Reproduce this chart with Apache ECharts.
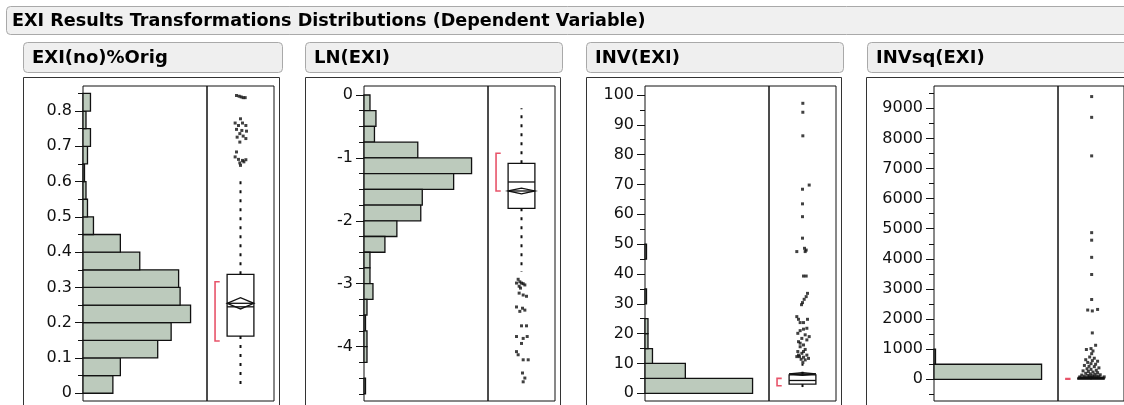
<!DOCTYPE html>
<html>
<head>
<meta charset="utf-8">
<script src="https://cdn.jsdelivr.net/npm/echarts@6/dist/echarts.min.js"></script>
<style>
html,body{margin:0;padding:0;background:#fff}
#chart{width:1124px;height:405px}
</style>
</head>
<body>
<div id="chart"></div>
<script>
const mainTitle = 'EXI Results Transformations Distributions (Dependent Variable)';
const panelTitles = ['EXI(no)%Orig', 'LN(EXI)', 'INV(EXI)', 'INVsq(EXI)'];

// axis ranges [min, max] and tick values
const rangeOrig = [-0.022, 0.871], rangeLn = [-4.865, 0.143], rangeInv = [-2.58, 103], rangeInvsq = [-721, 9741];
const ticksOrig = [0, 0.1, 0.2, 0.3, 0.4, 0.5, 0.6, 0.7, 0.8];
const minorOrig = [0.05, 0.15, 0.25, 0.35, 0.45, 0.55, 0.65, 0.75, 0.85];
const ticksLn = [0, -1, -2, -3, -4];
const minorLn = [-0.25, -0.5, -0.75, -1.25, -1.5, -1.75, -2.25, -2.5, -2.75, -3.25, -3.5, -3.75, -4.25, -4.5, -4.75];
const ticksInv = [0, 10, 20, 30, 40, 50, 60, 70, 80, 90, 100];
const minorInv = [5, 15, 25, 35, 45, 55, 65, 75, 85, 95];
const ticksInvsq = [0, 1000, 2000, 3000, 4000, 5000, 6000, 7000, 8000, 9000];
const minorInvsq = [-500, 500, 1500, 2500, 3500, 4500, 5500, 6500, 7500, 8500, 9500];

// histogram bins: [low, high, count]
const histOrig = [[0,0.05,20],[0.05,0.1,25],[0.1,0.15,50],[0.15,0.2,59],[0.2,0.25,72],[0.25,0.3,65],[0.3,0.35,64],[0.35,0.4,38],[0.4,0.45,25],[0.45,0.5,7],[0.5,0.55,3],[0.55,0.6,2],[0.6,0.65,1],[0.65,0.7,3],[0.7,0.75,5],[0.75,0.8,2],[0.8,0.85,5]];
const histLn = [[-0.25,0,4],[-0.5,-0.25,8],[-0.75,-0.5,7],[-1,-0.75,36],[-1.25,-1,72],[-1.5,-1.25,60],[-1.75,-1.5,39],[-2,-1.75,38],[-2.25,-2,22],[-2.5,-2.25,14],[-2.75,-2.5,4],[-3,-2.75,4],[-3.25,-3,6],[-3.5,-3.25,2],[-3.75,-3.5,1],[-4,-3.75,2],[-4.25,-4,2],[-4.75,-4.5,1]];
const histInv = [[0,5,72],[5,10,27],[10,15,5],[15,20,2],[20,25,2],[30,35,1],[45,50,1]];
const histInvsq = [[0,500,72],[500,1000,1]];
const histMax = 83;

// box stats: [lower whisker, q1, median, q3, upper whisker]; mean [value, half width]; shortest half [lo, hi]
const boxOrig = [0.011, 0.162, 0.245, 0.337, 0.604], meanOrig = [0.255, 0.016], shortOrig = [0.148, 0.316];
const boxLn = [-2.81, -1.801, -1.383, -1.086, -0.21], meanLn = [-1.526, 0.045], shortLn = [-1.526, -0.927];
const boxInv = [2.0, 3.1, 4.3, 6.2, 9.8], meanInv = [6.5, 0.45], shortInv = [2.55, 5.0];
const boxInvsq = [1.4, 8.8, 16.7, 38, 82], meanInvsq = [60, 20], shortInvsq = [4, 28];

// outlier points: [jitter, value]
const outOrig = [[0.44,0.844],[0.48,0.842],[0.51,0.840],[0.54,0.838],[0.57,0.838],[0.50,0.778],[0.42,0.766],[0.53,0.766],[0.47,0.759],[0.58,0.759],[0.44,0.748],[0.52,0.745],[0.59,0.743],[0.49,0.736],[0.54,0.729],[0.45,0.726],[0.58,0.722],[0.49,0.712],[0.44,0.684],[0.42,0.670],[0.47,0.663],[0.53,0.660],[0.58,0.662],[0.49,0.653],[0.55,0.656],[0.50,0.646]];
const outLn = [[0.45,-2.93],[0.475,-2.97],[0.425,-2.99],[0.5,-2.99],[0.525,-3.0],[0.465,-3.04],[0.55,-3.02],[0.485,-3.07],[0.465,-3.15],[0.525,-3.18],[0.575,-3.2],[0.425,-3.37],[0.515,-3.39],[0.475,-3.44],[0.55,-3.42],[0.5,-3.67],[0.575,-3.67],[0.425,-3.84],[0.525,-3.87],[0.585,-3.84],[0.5,-3.95],[0.425,-4.08],[0.45,-4.13],[0.525,-4.21],[0.6,-4.21],[0.515,-4.42],[0.55,-4.5],[0.525,-4.56]];
const outInv = [[0.505,97.2],[0.505,94.2],[0.505,86.3],[0.6,69.8],[0.5,68.4],[0.5,63.5],[0.5,59.2],[0.5,52.0],[0.53,48.6],[0.555,48.0],[0.415,47.5],[0.54,47.5],[0.515,39.3],[0.555,39.3],[0.575,33.5],[0.555,32.4],[0.525,31.5],[0.5,30.4],[0.485,29.7],[0.415,25.7],[0.44,24.8],[0.515,23.7],[0.575,24.8],[0.465,23.7],[0.565,21.8],[0.515,21.5],[0.465,21.0],[0.43,20.1],[0.54,19.6],[0.49,18.4],[0.44,17.3],[0.565,17.9],[0.515,16.2],[0.465,15.6],[0.54,14.7],[0.43,14.0],[0.49,13.4],[0.565,12.8],[0.455,12.3],[0.515,12.1],[0.59,11.7],[0.415,12.3],[0.48,11.4],[0.54,11.2],[0.505,10.3],[0.44,12.8],[0.6,19.0],[0.515,14.0],[0.465,16.8]];
const outInvsq = [[0.51,9390],[0.51,8700],[0.51,7420],[0.51,4870],[0.51,4620],[0.51,4050],[0.51,3480],[0.51,2650],[0.45,2300],[0.52,2270],[0.60,2320],[0.52,1540],[0.57,1130],[0.50,1020],[0.43,990],[0.53,940],[0.51,850],[0.48,740],[0.55,700],[0.42,650],[0.52,620],[0.60,600],[0.45,560],[0.50,520],[0.57,500],[0.40,460],[0.47,430],[0.55,420],[0.62,380],[0.44,350],[0.50,330],[0.58,300],[0.38,280],[0.46,260],[0.53,240],[0.60,220],[0.42,200],[0.49,180],[0.56,170],[0.64,150],[0.36,140],[0.45,130],[0.52,120],[0.59,110],[0.40,100],[0.48,95],[0.55,90],[0.62,85],[0.33,80],[0.70,80]];

const BAR = '#bccabc', INK = '#111', RED = '#e8546a';
const FONT = '"DejaVu Sans", sans-serif';

const panels = [
    {title: panelTitles[0], range: rangeOrig, hist: histOrig, box: boxOrig, mean: meanOrig, sh: shortOrig, out: outOrig, major: ticksOrig, minor: minorOrig},
    {title: panelTitles[1], range: rangeLn, hist: histLn, box: boxLn, mean: meanLn, sh: shortLn, out: outLn, major: ticksLn, minor: minorLn},
    {title: panelTitles[2], range: rangeInv, hist: histInv, box: boxInv, mean: meanInv, sh: shortInv, out: outInv, major: ticksInv, minor: minorInv},
    {title: panelTitles[3], range: rangeInvsq, hist: histInvsq, box: boxInvsq, mean: meanInvsq, sh: shortInvsq, out: outInvsq, major: ticksInvsq, minor: minorInvsq}
];
// pixel layout of each panel
const layout = [
    {outer: 23, outerW: 256, head: 23, headW: 259, hist: 83, box: 207},
    {outer: 305, outerW: 255, head: 305, headW: 257, hist: 364, box: 488},
    {outer: 586, outerW: 255, head: 586, headW: 257, hist: 645, box: 769},
    {outer: 866, outerW: 280, head: 867, headW: 280, hist: 934, box: 1058}
];

function renderHist(params, api) {
    const a = api.coord([0, api.value(1)]);
    const b = api.coord([api.value(2), api.value(0)]);
    return {type: 'rect', shape: {x: a[0], y: a[1], width: b[0] - a[0], height: b[1] - a[1]},
        style: {fill: BAR, stroke: INK, lineWidth: 1.3}};
}

function seg(p1, p2, style) {
    return {type: 'line', shape: {x1: p1[0], y1: p1[1], x2: p2[0], y2: p2[1]}, style: style};
}

function renderBox(params, api) {
    const [lo, q1, md, q3, hi, mn, ci, s0, s1] = [0,1,2,3,4,5,6,7,8].map(k => api.value(k));
    const pt = (x, y) => api.coord([x, y]);
    const dash = {stroke: INK, lineWidth: 2, lineDash: [3, 6]};
    const solid = {stroke: INK, lineWidth: 1.3};
    const tl = pt(0.3, q3), br = pt(0.7, q1);
    return {type: 'group', children: [
        seg(pt(0.5, q3), pt(0.5, hi), dash),
        seg(pt(0.5, q1), pt(0.5, lo), dash),
        {type: 'rect', shape: {x: tl[0], y: tl[1], width: br[0] - tl[0], height: br[1] - tl[1]}, style: {fill: '#fff', stroke: INK, lineWidth: 1.3}},
        seg(pt(0.3, md), pt(0.7, md), solid),
        {type: 'polygon', shape: {points: [pt(0.3, mn), pt(0.5, mn + ci), pt(0.7, mn), pt(0.5, mn - ci)]}, style: {fill: 'none', stroke: INK, lineWidth: 1.3}},
        seg(pt(0.3, mn), pt(0.7, mn), solid),
        {type: 'polyline', shape: {points: [pt(0.19, s1), pt(0.12, s1), pt(0.12, s0), pt(0.19, s0)]}, style: {fill: 'none', stroke: RED, lineWidth: 1.6}}
    ]};
}

const grids = [], xAxes = [], yAxes = [], series = [];
const graphic = [
    {type: 'rect', shape: {x: 6.5, y: 6.5, width: 1130, height: 28, r: 4}, style: {fill: '#f0f0f0', stroke: '#a9a9a9', lineWidth: 1}},
    {type: 'text', style: {text: mainTitle, x: 12, y: 21, font: 'bold 17.6px ' + FONT, fill: '#000', verticalAlign: 'middle'}}
];

panels.forEach((p, i) => {
    const L = layout[i];
    graphic.push(
        {type: 'rect', shape: {x: L.head + 0.5, y: 42.5, width: L.headW, height: 30, r: 4}, style: {fill: '#efefef', stroke: '#a9a9a9', lineWidth: 1}},
        {type: 'text', style: {text: p.title, x: L.head + 9, y: 58.5, font: 'bold 18px ' + FONT, fill: '#000', verticalAlign: 'middle'}},
        {type: 'rect', shape: {x: L.outer + 0.5, y: 77.5, width: L.outerW, height: 340}, style: {fill: 'none', stroke: '#333', lineWidth: 1}}
    );
    grids.push({left: L.hist, top: 86, width: 124, height: 315, show: true, borderColor: INK, borderWidth: 1});
    grids.push({left: L.box, top: 86, width: 67, height: 315, show: true, borderColor: INK, borderWidth: 1});
    xAxes.push({gridIndex: 2 * i, type: 'value', min: 0, max: histMax, show: false});
    xAxes.push({gridIndex: 2 * i + 1, type: 'value', min: 0, max: 1, show: false});
    yAxes.push({
        gridIndex: 2 * i, type: 'value', position: 'left', min: p.range[0], max: p.range[1],
        axisLine: {show: false}, splitLine: {show: false},
        axisTick: {customValues: p.major, length: 8, lineStyle: {color: INK, width: 1}},
        axisLabel: {customValues: p.major, margin: 11, color: '#111', fontFamily: FONT, fontSize: 16, formatter: v => String(v)}
    });
    yAxes.push({
        gridIndex: 2 * i, type: 'value', position: 'left', min: p.range[0], max: p.range[1],
        axisLine: {show: false}, splitLine: {show: false}, axisLabel: {show: false},
        axisTick: {customValues: p.minor, length: 5, lineStyle: {color: INK, width: 1}}
    });
    yAxes.push({gridIndex: 2 * i + 1, type: 'value', min: p.range[0], max: p.range[1], show: false});

    series.push({type: 'custom', xAxisIndex: 2 * i, yAxisIndex: 3 * i, data: p.hist, encode: {x: 2, y: [0, 1]}, renderItem: renderHist, silent: true});
    series.push({type: 'custom', xAxisIndex: 2 * i + 1, yAxisIndex: 3 * i + 2, data: [[...p.box, ...p.mean, ...p.sh]], encode: {y: [0, 4]}, renderItem: renderBox, silent: true});
    series.push({type: 'scatter', xAxisIndex: 2 * i + 1, yAxisIndex: 3 * i + 2, data: p.out, symbol: 'rect', symbolSize: 3, itemStyle: {color: INK}, silent: true});
});

const chart = echarts.init(document.getElementById('chart'));
chart.setOption({
    animation: false,
    backgroundColor: '#fff',
    grid: grids,
    xAxis: xAxes,
    yAxis: yAxes,
    graphic: graphic,
    series: series
});
</script>
</body>
</html>
